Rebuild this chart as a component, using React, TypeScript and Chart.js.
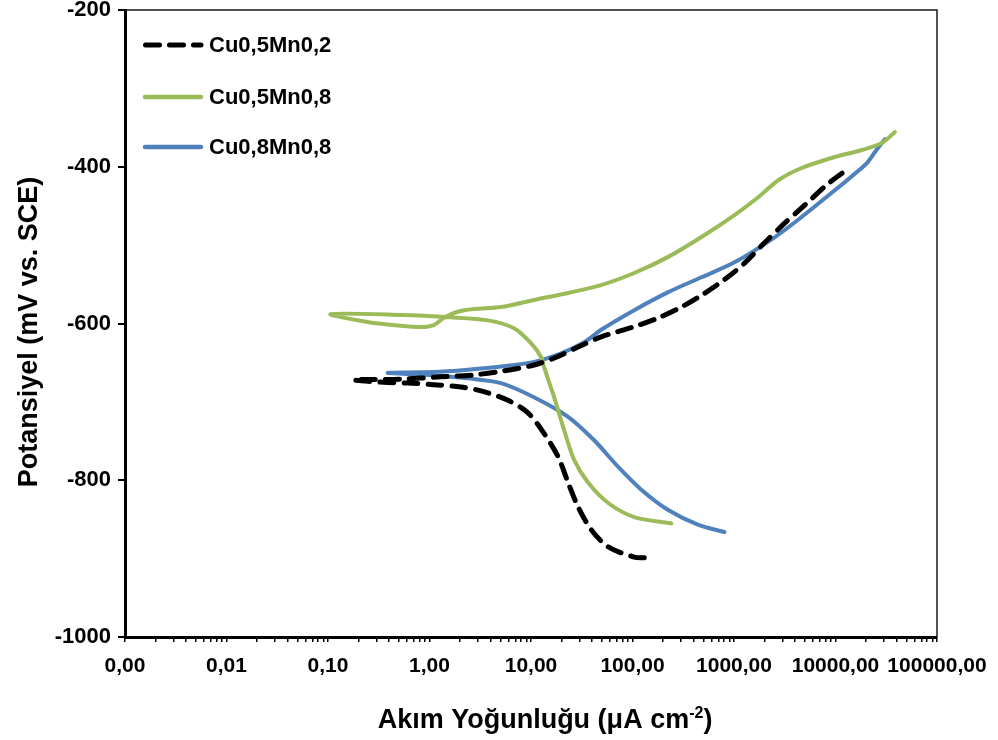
import React, { useEffect, useRef } from 'react';
import { Chart, registerables } from 'chart.js';

Chart.register(...registerables);

const FONT = "'Liberation Sans', Arial, Helvetica, sans-serif";

// Series names
const seriesNames = ['Cu0,5Mn0,2', 'Cu0,5Mn0,8', 'Cu0,8Mn0,8'];
const seriesColors = ['#000000', '#9BBB59', '#4F81BD'];

// Cu0,5Mn0,2 (cathodic end -> Ecorr -> anodic end)
const cu05mn02Current = [
  130.6, 104, 57.6, 39.2, 29.1, 23.2, 18.5, 13.4, 9.34, 5.93, 3.43, 2.04, 1.1, 0.61, 0.353, 0.179,
  0.52, 1.29, 2.55, 5.06, 10.7, 17.7, 29.1, 49.1, 104, 179, 303, 478, 806, 1270, 2000, 3155, 4970, 8570, 13520,
];
const cu05mn02Potential = [
  -899, -898, -885, -863, -834, -803, -770, -740, -714, -698, -687, -681, -678, -676, -675, -672,
  -671, -668, -666, -661, -653, -643, -630, -617, -604, -593, -579, -564, -544, -523, -497, -472, -449, -421, -402,
];

// Cu0,5Mn0,8
const cu05mn08Current = [
  241.5, 104, 57.6, 36.5, 26.6, 21.2, 16.9, 13.4, 12.6, 10.0, 6.79, 3.76, 1.62, 0.52, 0.106,
  0.245, 0.52, 0.82, 1.1, 1.38, 1.9, 2.74, 5.06, 10.7, 23.2, 49.1, 104, 225, 478, 1012, 1746, 2752, 4645, 9840, 18170, 28640, 38460,
];
const cu05mn08Potential = [
  -855, -847, -829, -803, -774, -736, -694, -655, -643, -625, -606, -596, -592, -589, -588,
  -598, -603, -604.5, -602, -593, -585, -581.5, -579, -570, -561, -551, -535.6, -515, -489.6, -461.6, -438.6, -416.9, -401.6, -387.6, -378.6, -369.7, -355.7,
];

// Cu0,8Mn0,8
const cu08mn08Current = [
  806, 446, 225, 122, 72.3, 41.9, 23.2, 10.7, 5.06, 2.39, 1.1, 0.387,
  1.1, 2.39, 5.06, 10.7, 19.8, 33.4, 49.1, 104, 225, 478, 1012, 2512, 4645, 9840, 14500, 20500, 25500, 30640,
];
const cu08mn08Potential = [
  -866, -857, -838, -812, -783, -749, -719, -694, -676, -670, -666, -663,
  -662, -659, -655, -649, -638, -624, -608, -583, -560, -541, -522, -490, -464, -430, -412, -395, -378, -365,
];

// Axis ticks
const xMajorTicks = [0.001, 0.01, 0.1, 1, 10, 100, 1000, 10000, 100000];
const xTickLabels = ['0,00', '0,01', '0,10', '1,00', '10,00', '100,00', '1000,00', '10000,00', '100000,00'];
const yTickValues = [-1000, -800, -600, -400, -200];
const yTickLabels = ['-1000', '-800', '-600', '-400', '-200'];

const xTitleMain = 'Akım Yoğunluğu (μA cm';
const xTitleSup = '-2';
const xTitleEnd = ')';
const yTitle = 'Potansiyel (mV vs. SCE)';

function toPoints(xs: number[], ys: number[]) {
  return xs.map((x, i) => ({ x, y: ys[i] }));
}

function isMajorVal(v: number) {
  const l = Math.log10(v);
  return Math.abs(l - Math.round(l)) < 1e-9;
}

const overlayPlugin = {
  id: 'overlay',
  afterDraw(chart: any) {
    const { ctx, chartArea } = chart;
    const { left, right, top, bottom } = chartArea;
    ctx.save();
    // top & right frame
    ctx.strokeStyle = '#1a1a1a';
    ctx.lineWidth = 1.5;
    ctx.beginPath();
    ctx.moveTo(left, top);
    ctx.lineTo(right, top);
    ctx.lineTo(right, bottom);
    ctx.stroke();

    // legend
    const legY = [45, 97, 147];
    ctx.font = `bold 22px ${FONT}`;
    ctx.textBaseline = 'middle';
    ctx.textAlign = 'left';
    seriesNames.forEach((name, i) => {
      ctx.save();
      ctx.strokeStyle = seriesColors[i];
      ctx.lineCap = 'round';
      if (i === 0) {
        ctx.lineWidth = 5;
        ctx.setLineDash([14, 10]);
        ctx.beginPath();
        ctx.moveTo(145.5, legY[i]);
        ctx.lineTo(201, legY[i]);
        ctx.stroke();
      } else {
        ctx.lineWidth = 4.5;
        ctx.beginPath();
        ctx.moveTo(145, legY[i]);
        ctx.lineTo(201, legY[i]);
        ctx.stroke();
      }
      ctx.restore();
      ctx.fillStyle = '#000';
      ctx.fillText(name, 209, legY[i] + 1);
    });

    // y title
    ctx.save();
    ctx.translate(30, 332);
    ctx.rotate(-Math.PI / 2);
    ctx.font = `bold 27px ${FONT}`;
    ctx.textAlign = 'center';
    ctx.textBaseline = 'middle';
    ctx.fillStyle = '#000';
    ctx.fillText(yTitle, 0, 0);
    ctx.restore();

    // x title with superscript
    ctx.save();
    ctx.fillStyle = '#000';
    ctx.textBaseline = 'alphabetic';
    ctx.textAlign = 'left';
    const mainFont = `bold 27px ${FONT}`;
    const supFont = `bold 16px ${FONT}`;
    ctx.font = mainFont;
    const w1 = ctx.measureText(xTitleMain).width;
    const w3 = ctx.measureText(xTitleEnd).width;
    ctx.font = supFont;
    const w2 = ctx.measureText(xTitleSup).width;
    const total = w1 + w2 + w3;
    const x0 = 545 - total / 2;
    const base = 728;
    ctx.font = mainFont;
    ctx.fillText(xTitleMain, x0, base);
    ctx.font = supFont;
    ctx.fillText(xTitleSup, x0 + w1, base - 10);
    ctx.font = mainFont;
    ctx.fillText(xTitleEnd, x0 + w1 + w2, base);
    ctx.restore();

    ctx.restore();
  },
};

export default function App() {
  const ref = useRef<HTMLCanvasElement | null>(null);
  useEffect(() => {
    document.body.style.margin = '0';
    if (!ref.current) return;
    const xTicksAll: number[] = [];
    for (let i = 0; i < xMajorTicks.length; i++) {
      const m = xMajorTicks[i];
      xTicksAll.push(m);
      if (i < xMajorTicks.length - 1) {
        for (let k = 2; k <= 9; k++) xTicksAll.push(+(m * k).toPrecision(6));
      }
    }
    const common = {
      showLine: true,
      pointRadius: 0,
      pointHoverRadius: 0,
      fill: false,
      tension: 0.3,
      borderJoinStyle: 'round' as const,
    };
    const chart = new Chart(ref.current, {
      type: 'scatter',
      data: {
        datasets: [
          {
            ...common,
            label: seriesNames[0],
            data: toPoints(cu05mn02Current, cu05mn02Potential),
            borderColor: seriesColors[0],
            borderWidth: 5,
            borderDash: [14, 10],
            borderCapStyle: 'round',
          },
          {
            ...common,
            label: seriesNames[1],
            data: toPoints(cu05mn08Current, cu05mn08Potential),
            borderColor: seriesColors[1],
            borderWidth: 4,
            borderCapStyle: 'round',
          },
          {
            ...common,
            label: seriesNames[2],
            data: toPoints(cu08mn08Current, cu08mn08Potential),
            borderColor: seriesColors[2],
            borderWidth: 4,
            borderCapStyle: 'round',
          },
        ] as any,
      },
      options: {
        responsive: false,
        animation: false,
        events: [],
        layout: { padding: { top: 10, right: 61, left: 0, bottom: 0 } },
        plugins: { legend: { display: false }, tooltip: { enabled: false }, title: { display: false } },
        scales: {
          x: {
            type: 'logarithmic',
            min: 0.001,
            max: 100000,
            border: { display: true, color: '#000', width: 3 },
            grid: { drawOnChartArea: false, drawTicks: true, tickLength: 5, color: '#000', tickColor: '#000', lineWidth: 1.5 },
            afterBuildTicks: (scale: any) => {
              scale.ticks = xTicksAll.map((v) => ({ value: v, major: isMajorVal(v) }));
            },
            afterFit: (scale: any) => {
              scale.height = 103;
              scale.paddingLeft = 0;
              scale.paddingRight = 0;
            },
            ticks: {
              autoSkip: false,
              maxRotation: 0,
              minRotation: 0,
              color: '#000',
              padding: 12,
              font: { family: FONT, size: 21, weight: 'bold' },
              callback: (value: any) => {
                const v = Number(value);
                if (!isMajorVal(v)) return '';
                const idx = xMajorTicks.findIndex((m) => Math.abs(Math.log10(m) - Math.log10(v)) < 1e-6);
                return idx >= 0 ? xTickLabels[idx] : '';
              },
            },
          },
          y: {
            type: 'linear',
            min: -1000,
            max: -200,
            border: { display: true, color: '#000', width: 3 },
            grid: { drawOnChartArea: false, drawTicks: true, tickLength: 7, color: '#000', tickColor: '#000', lineWidth: 2 },
            afterBuildTicks: (scale: any) => {
              scale.ticks = yTickValues.map((v) => ({ value: v }));
            },
            afterFit: (scale: any) => {
              scale.width = 125;
              scale.paddingTop = 0;
              scale.paddingBottom = 0;
            },
            ticks: {
              color: '#000',
              padding: 7,
              font: { family: FONT, size: 22, weight: 'bold' },
              callback: (value: any) => {
                const idx = yTickValues.indexOf(Number(value));
                return idx >= 0 ? yTickLabels[idx] : '';
              },
            },
          },
        },
      } as any,
      plugins: [overlayPlugin],
    });
    return () => chart.destroy();
  }, []);
  return (
    <div style={{ width: 998, height: 740, background: '#fff' }}>
      <canvas ref={ref} width={998} height={740} style={{ display: 'block', width: 998, height: 740 }} />
    </div>
  );
}
